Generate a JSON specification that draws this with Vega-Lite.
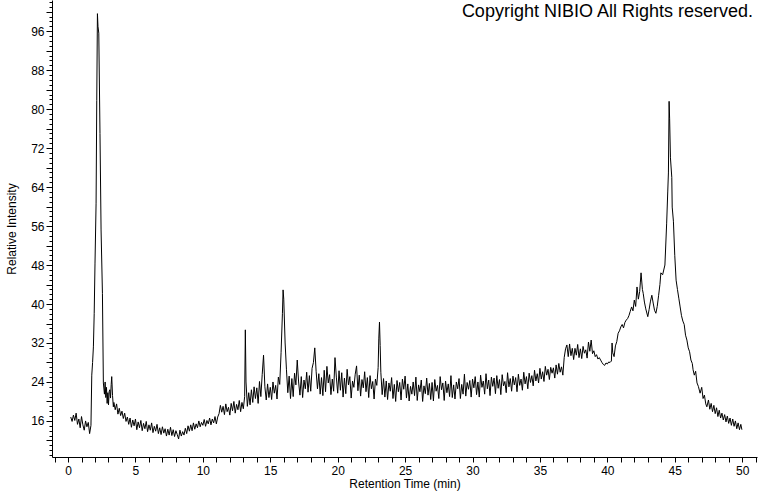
{
  "$schema": "https://vega.github.io/schema/vega-lite/v6.json",
  "width": 705,
  "height": 457,
  "autosize": {"type": "none"},
  "padding": {"left": 52, "top": 0, "right": 3, "bottom": 35},
  "background": "white",
  "config": {"view": {"stroke": null}, "font": "Liberation Sans"},
  "title": {"text": "Copyright NIBIO All Rights reserved.", "anchor": "end", "orient": "top", "offset": -25, "dx": -4, "fontSize": 18, "fontWeight": "normal", "font": "Liberation Sans", "color": "black"},
  "data": {"values": [
{"t":0.2,"i":16.8},{"t":0.3,"i":15.9},{"t":0.4,"i":17.2},{"t":0.5,"i":16.1},{"t":0.6,"i":17.6},{"t":0.7,"i":15.3},{"t":0.8,"i":16.4},{"t":0.9,"i":14.6},{"t":1.0,"i":16.9},{"t":1.1,"i":15.2},{"t":1.2,"i":14.1},{"t":1.3,"i":16.0},{"t":1.4,"i":14.8},{"t":1.5,"i":15.7},{"t":1.6,"i":13.4},{"t":1.7,"i":15.1},
{"t":1.76,"i":25.4},{"t":1.82,"i":28.0},{"t":1.88,"i":31.2},{"t":1.94,"i":38},{"t":2.0,"i":48.4},{"t":2.08,"i":60.7},{"t":2.13,"i":81.8},{"t":2.18,"i":99.6},{"t":2.22,"i":97.0},{"t":2.28,"i":95.6},{"t":2.37,"i":75},{"t":2.45,"i":55.2},{"t":2.55,"i":42.2},{"t":2.62,"i":23.8},{"t":2.7,"i":21.5},{"t":2.75,"i":24.0},{"t":2.8,"i":20.8},{"t":2.85,"i":22.9},{"t":2.9,"i":19.6},{"t":2.95,"i":21.8},{"t":3.0,"i":19.3},{"t":3.05,"i":22.0},{"t":3.1,"i":22.4},{"t":3.15,"i":20.7},{"t":3.2,"i":23.5},{"t":3.24,"i":25.1},{"t":3.3,"i":21.2},{"t":3.36,"i":18.9},{"t":3.4,"i":19.8},{"t":3.5,"i":18.3},{"t":3.6,"i":19.5},{"t":3.7,"i":17.4},{"t":3.8,"i":18.6},{"t":3.9,"i":17.1},{"t":4.0,"i":18.0},{"t":4.1,"i":16.5},{"t":4.2,"i":17.6},{"t":4.3,"i":15.9},{"t":4.4,"i":16.8},{"t":4.5,"i":15.3},{"t":4.6,"i":16.6},{"t":4.7,"i":14.7},{"t":4.8,"i":16.2},{"t":4.9,"i":15.0},
{"t":5.0,"i":16.4},{"t":5.1,"i":14.2},{"t":5.2,"i":15.8},{"t":5.3,"i":14.6},{"t":5.4,"i":16.1},{"t":5.5,"i":14.0},{"t":5.6,"i":15.5},{"t":5.7,"i":14.4},{"t":5.8,"i":15.9},{"t":5.9,"i":13.8},{"t":6.0,"i":15.2},{"t":6.1,"i":14.1},{"t":6.2,"i":15.6},{"t":6.3,"i":13.6},{"t":6.4,"i":14.9},{"t":6.5,"i":13.9},{"t":6.6,"i":15.3},{"t":6.7,"i":13.4},{"t":6.8,"i":14.6},{"t":6.9,"i":13.2},{"t":7.0,"i":14.8},{"t":7.1,"i":13.5},{"t":7.2,"i":14.4},{"t":7.3,"i":12.9},{"t":7.4,"i":14.3},{"t":7.5,"i":13.1},{"t":7.6,"i":14.7},{"t":7.7,"i":13.0},{"t":7.8,"i":14.2},{"t":7.9,"i":12.8},{"t":8.0,"i":14.0},{"t":8.1,"i":13.2},{"t":8.2,"i":12.3},{"t":8.3,"i":14.1},{"t":8.4,"i":12.9},{"t":8.5,"i":13.8},{"t":8.6,"i":13.1},{"t":8.7,"i":14.5},{"t":8.8,"i":13.4},{"t":8.9,"i":15.0},{"t":9.0,"i":13.9},{"t":9.1,"i":15.2},{"t":9.2,"i":14.0},{"t":9.3,"i":15.6},{"t":9.4,"i":14.3},{"t":9.5,"i":15.4},{"t":9.6,"i":14.6},{"t":9.7,"i":16.0},{"t":9.8,"i":14.8},{"t":9.9,"i":15.7},
{"t":10.0,"i":15.1},{"t":10.1,"i":16.3},{"t":10.2,"i":14.9},{"t":10.3,"i":16.1},{"t":10.4,"i":15.4},{"t":10.5,"i":16.6},{"t":10.6,"i":15.2},{"t":10.7,"i":16.4},{"t":10.8,"i":15.6},{"t":10.9,"i":16.9},{"t":11.0,"i":15.4},{"t":11.1,"i":16.8},{"t":11.2,"i":17.5},{"t":11.3,"i":19.2},{"t":11.4,"i":17.8},{"t":11.5,"i":19.0},{"t":11.6,"i":17.3},{"t":11.7,"i":19.5},{"t":11.8,"i":17.9},{"t":11.9,"i":18.8},{"t":12.0,"i":17.2},{"t":12.1,"i":19.6},{"t":12.2,"i":18.1},{"t":12.3,"i":20.0},{"t":12.4,"i":17.6},{"t":12.5,"i":19.4},{"t":12.6,"i":18.3},{"t":12.7,"i":20.2},{"t":12.8,"i":17.9},{"t":12.9,"i":19.8},{"t":13.0,"i":18.5},{"t":13.1,"i":21.0},{"t":13.15,"i":34.7},{"t":13.2,"i":24.0},{"t":13.3,"i":19.0},{"t":13.4,"i":21.8},{"t":13.5,"i":19.3},{"t":13.6,"i":22.4},{"t":13.7,"i":19.8},{"t":13.8,"i":23.0},{"t":13.9,"i":20.6},{"t":14.0,"i":22.8},{"t":14.1,"i":19.6},{"t":14.2,"i":24.1},{"t":14.3,"i":21.0},{"t":14.4,"i":25.5},{"t":14.5,"i":29.5},{"t":14.6,"i":23.0},{"t":14.7,"i":20.3},{"t":14.8,"i":23.6},{"t":14.9,"i":20.8},
{"t":15.0,"i":22.9},{"t":15.1,"i":20.4},{"t":15.2,"i":24.0},{"t":15.3,"i":21.7},{"t":15.4,"i":23.3},{"t":15.5,"i":20.5},{"t":15.6,"i":25.0},{"t":15.7,"i":23.5},{"t":15.8,"i":30.0},{"t":15.9,"i":38.0},{"t":15.95,"i":42.9},{"t":16.0,"i":41.0},{"t":16.1,"i":32.0},{"t":16.2,"i":26.5},{"t":16.3,"i":21.8},{"t":16.4,"i":25.2},{"t":16.5,"i":20.6},{"t":16.6,"i":24.7},{"t":16.7,"i":21.0},{"t":16.8,"i":25.8},{"t":16.9,"i":23.4},{"t":17.0,"i":28.5},{"t":17.1,"i":24.0},{"t":17.2,"i":21.3},{"t":17.3,"i":25.1},{"t":17.4,"i":20.8},{"t":17.5,"i":24.4},{"t":17.6,"i":22.6},{"t":17.7,"i":26.0},{"t":17.8,"i":21.9},{"t":17.9,"i":25.3},{"t":18.0,"i":22.1},{"t":18.1,"i":26.8},{"t":18.2,"i":28.0},{"t":18.3,"i":31.0},{"t":18.4,"i":26.2},{"t":18.5,"i":22.6},{"t":18.6,"i":25.7},{"t":18.7,"i":21.5},{"t":18.8,"i":24.9},{"t":18.9,"i":21.2},{"t":19.0,"i":26.4},{"t":19.1,"i":22.0},{"t":19.2,"i":27.2},{"t":19.3,"i":23.8},{"t":19.4,"i":25.5},{"t":19.5,"i":21.4},{"t":19.6,"i":24.6},{"t":19.7,"i":22.1},{"t":19.8,"i":29.0},{"t":19.9,"i":25.0},
{"t":20.0,"i":21.7},{"t":20.1,"i":26.3},{"t":20.2,"i":22.3},{"t":20.3,"i":25.9},{"t":20.4,"i":20.9},{"t":20.5,"i":24.8},{"t":20.6,"i":21.6},{"t":20.7,"i":26.6},{"t":20.8,"i":23.4},{"t":20.9,"i":25.1},{"t":21.0,"i":20.7},{"t":21.1,"i":24.2},{"t":21.2,"i":22.9},{"t":21.3,"i":25.6},{"t":21.4,"i":27.3},{"t":21.5,"i":22.2},{"t":21.6,"i":25.4},{"t":21.7,"i":21.1},{"t":21.8,"i":24.5},{"t":21.9,"i":22.8},{"t":22.0,"i":26.1},{"t":22.1,"i":22.0},{"t":22.2,"i":24.9},{"t":22.3,"i":20.8},{"t":22.4,"i":25.3},{"t":22.5,"i":22.6},{"t":22.6,"i":24.1},{"t":22.7,"i":20.5},{"t":22.8,"i":24.6},{"t":22.9,"i":23.3},{"t":23.0,"i":27.0},{"t":23.05,"i":33.0},{"t":23.1,"i":36.3},{"t":23.15,"i":31.5},{"t":23.2,"i":26.0},{"t":23.3,"i":21.4},{"t":23.4,"i":24.7},{"t":23.5,"i":20.9},{"t":23.6,"i":24.2},{"t":23.7,"i":20.4},{"t":23.8,"i":23.8},{"t":23.9,"i":22.1},{"t":24.0,"i":24.9},{"t":24.1,"i":20.6},{"t":24.2,"i":23.5},{"t":24.3,"i":20.0},{"t":24.4,"i":24.3},{"t":24.5,"i":22.0},{"t":24.6,"i":23.9},{"t":24.7,"i":20.3},{"t":24.8,"i":24.6},{"t":24.9,"i":22.5},
{"t":25.0,"i":25.2},{"t":25.1,"i":20.7},{"t":25.2,"i":23.6},{"t":25.3,"i":20.1},{"t":25.4,"i":23.1},{"t":25.5,"i":21.5},{"t":25.6,"i":24.0},{"t":25.7,"i":21.2},{"t":25.8,"i":25.0},{"t":25.9,"i":20.2},{"t":26.0,"i":23.4},{"t":26.1,"i":22.0},{"t":26.2,"i":24.4},{"t":26.3,"i":20.0},{"t":26.4,"i":23.2},{"t":26.5,"i":21.6},{"t":26.6,"i":24.8},{"t":26.7,"i":21.3},{"t":26.8,"i":23.7},{"t":26.9,"i":20.4},{"t":27.0,"i":23.9},{"t":27.1,"i":20.1},{"t":27.2,"i":24.5},{"t":27.3,"i":22.1},{"t":27.4,"i":23.3},{"t":27.5,"i":20.6},{"t":27.6,"i":25.1},{"t":27.7,"i":22.4},{"t":27.8,"i":23.8},{"t":27.9,"i":20.2},{"t":28.0,"i":24.2},{"t":28.1,"i":21.8},{"t":28.2,"i":23.6},{"t":28.3,"i":21.0},{"t":28.4,"i":25.3},{"t":28.5,"i":20.8},{"t":28.6,"i":23.4},{"t":28.7,"i":20.5},{"t":28.8,"i":24.0},{"t":28.9,"i":22.6},{"t":29.0,"i":24.7},{"t":29.1,"i":20.6},{"t":29.2,"i":23.5},{"t":29.3,"i":21.5},{"t":29.4,"i":25.6},{"t":29.5,"i":21.1},{"t":29.6,"i":23.9},{"t":29.7,"i":22.5},{"t":29.8,"i":24.3},{"t":29.9,"i":20.9},
{"t":30.0,"i":24.6},{"t":30.1,"i":22.8},{"t":30.2,"i":25.1},{"t":30.3,"i":21.4},{"t":30.4,"i":24.0},{"t":30.5,"i":20.9},{"t":30.6,"i":25.4},{"t":30.7,"i":22.9},{"t":30.8,"i":24.2},{"t":30.9,"i":21.5},{"t":31.0,"i":25.7},{"t":31.1,"i":22.6},{"t":31.2,"i":24.4},{"t":31.3,"i":21.2},{"t":31.4,"i":25.0},{"t":31.5,"i":23.1},{"t":31.6,"i":24.8},{"t":31.7,"i":21.6},{"t":31.8,"i":25.3},{"t":31.9,"i":22.7},{"t":32.0,"i":24.5},{"t":32.1,"i":21.4},{"t":32.2,"i":25.5},{"t":32.3,"i":23.2},{"t":32.4,"i":24.1},{"t":32.5,"i":21.8},{"t":32.6,"i":25.9},{"t":32.7,"i":23.0},{"t":32.8,"i":24.7},{"t":32.9,"i":22.1},{"t":33.0,"i":25.2},{"t":33.1,"i":23.4},{"t":33.2,"i":24.9},{"t":33.3,"i":22.0},{"t":33.4,"i":25.6},{"t":33.5,"i":23.3},{"t":33.6,"i":24.6},{"t":33.7,"i":22.3},{"t":33.8,"i":26.0},{"t":33.9,"i":23.6},{"t":34.0,"i":25.1},{"t":34.1,"i":22.6},{"t":34.2,"i":25.8},{"t":34.3,"i":23.9},{"t":34.4,"i":25.3},{"t":34.5,"i":23.2},{"t":34.6,"i":26.4},{"t":34.7,"i":24.2},{"t":34.8,"i":25.7},{"t":34.9,"i":23.8},
{"t":35.0,"i":26.8},{"t":35.1,"i":24.6},{"t":35.2,"i":26.1},{"t":35.3,"i":24.1},{"t":35.4,"i":27.2},{"t":35.5,"i":25.4},{"t":35.6,"i":26.6},{"t":35.7,"i":24.5},{"t":35.8,"i":27.0},{"t":35.9,"i":25.8},{"t":36.0,"i":26.9},{"t":36.1,"i":24.8},{"t":36.2,"i":27.5},{"t":36.3,"i":25.6},{"t":36.4,"i":27.8},{"t":36.5,"i":26.0},{"t":36.6,"i":27.1},{"t":36.7,"i":25.4},{"t":36.8,"i":29.0},{"t":36.9,"i":30.8},{"t":37.0,"i":31.6},{"t":37.1,"i":29.2},{"t":37.2,"i":31.8},{"t":37.3,"i":29.4},{"t":37.4,"i":30.9},{"t":37.5,"i":28.6},{"t":37.6,"i":30.9},{"t":37.7,"i":29.5},{"t":37.8,"i":31.7},{"t":37.9,"i":29.0},{"t":38.0,"i":30.8},{"t":38.1,"i":28.8},{"t":38.2,"i":31.3},{"t":38.3,"i":29.9},{"t":38.4,"i":30.6},{"t":38.5,"i":28.9},{"t":38.6,"i":32.2},{"t":38.7,"i":30.3},{"t":38.8,"i":32.6},{"t":38.9,"i":29.8},{"t":39.0,"i":30.4},{"t":39.1,"i":29.2},{"t":39.2,"i":29.6},{"t":39.3,"i":28.7},{"t":39.4,"i":29.0},{"t":39.5,"i":28.5},{"t":39.6,"i":28.0},{"t":39.7,"i":27.6},{"t":39.8,"i":27.4},{"t":39.9,"i":27.9},
{"t":40.0,"i":27.7},{"t":40.1,"i":28.1},{"t":40.2,"i":28.0},{"t":40.3,"i":28.3},{"t":40.35,"i":32.0},{"t":40.4,"i":30.0},{"t":40.5,"i":29.2},{"t":40.6,"i":31.4},{"t":40.7,"i":32.3},{"t":40.8,"i":34.0},{"t":40.9,"i":34.5},{"t":41.0,"i":35.3},{"t":41.1,"i":35.8},{"t":41.2,"i":35.1},{"t":41.3,"i":36.2},{"t":41.4,"i":36.7},{"t":41.5,"i":37.0},{"t":41.6,"i":37.6},{"t":41.7,"i":38.5},{"t":41.8,"i":39.4},{"t":41.9,"i":38.6},{"t":42.0,"i":40.8},{"t":42.1,"i":39.5},{"t":42.2,"i":43.5},{"t":42.3,"i":41.0},{"t":42.4,"i":42.6},{"t":42.45,"i":44.5},{"t":42.5,"i":46.4},{"t":42.6,"i":43.0},{"t":42.66,"i":42.2},{"t":42.75,"i":40.4},{"t":42.85,"i":39.0},{"t":43.0,"i":37.4},{"t":43.1,"i":38.9},{"t":43.2,"i":40.6},{"t":43.3,"i":41.8},{"t":43.4,"i":40.2},{"t":43.5,"i":38.7},{"t":43.6,"i":38.1},{"t":43.7,"i":39.5},{"t":43.8,"i":41.7},{"t":43.9,"i":44.0},{"t":43.97,"i":46.4},{"t":44.1,"i":46.0},{"t":44.27,"i":48.0},{"t":44.4,"i":56.6},{"t":44.48,"i":63.0},{"t":44.53,"i":66.9},{"t":44.58,"i":81.6},{"t":44.62,"i":78.0},{"t":44.68,"i":70.0},{"t":44.78,"i":66.0},{"t":44.81,"i":59.9},{"t":44.9,"i":57.0},
{"t":45.0,"i":50.0},{"t":45.1,"i":44.9},{"t":45.2,"i":43.0},{"t":45.3,"i":41.2},{"t":45.4,"i":39.4},{"t":45.5,"i":37.6},{"t":45.6,"i":36.5},{"t":45.7,"i":35.8},{"t":45.8,"i":33.6},{"t":45.9,"i":32.6},{"t":46.0,"i":31.0},{"t":46.1,"i":30.2},{"t":46.2,"i":28.5},{"t":46.3,"i":27.8},{"t":46.36,"i":26.5},{"t":46.45,"i":25.4},{"t":46.55,"i":26.2},{"t":46.65,"i":23.8},{"t":46.75,"i":23.1},{"t":46.88,"i":21.7},{"t":47.0,"i":22.9},{"t":47.1,"i":20.6},{"t":47.2,"i":21.3},{"t":47.3,"i":19.5},{"t":47.38,"i":18.9},{"t":47.5,"i":20.3},{"t":47.6,"i":18.4},{"t":47.7,"i":19.6},{"t":47.8,"i":17.9},{"t":47.9,"i":19.2},{"t":48.0,"i":17.5},{"t":48.1,"i":18.7},{"t":48.2,"i":16.9},{"t":48.3,"i":18.2},{"t":48.4,"i":16.6},{"t":48.5,"i":17.6},{"t":48.6,"i":16.2},{"t":48.7,"i":17.3},{"t":48.8,"i":15.8},{"t":48.9,"i":17.0},{"t":49.0,"i":15.5},{"t":49.1,"i":16.6},{"t":49.2,"i":15.1},{"t":49.3,"i":16.4},{"t":49.4,"i":14.9},{"t":49.5,"i":16.0},{"t":49.6,"i":14.4},{"t":49.7,"i":15.6},{"t":49.8,"i":14.2},{"t":49.9,"i":15.3},{"t":49.98,"i":14.2}
  ]},
  "mark": {"type": "line", "color": "black", "strokeWidth": 1, "clip": true},
  "encoding": {
    "x": {"field": "t", "type": "quantitative",
      "scale": {"domain": [-1.19, 51.1], "nice": false, "zero": false},
      "axis": {"title": "Retention Time (min)", "values": [-1,0,1,2,3,4,5,6,7,8,9,10,11,12,13,14,15,16,17,18,19,20,21,22,23,24,25,26,27,28,29,30,31,32,33,34,35,36,37,38,39,40,41,42,43,44,45,46,47,48,49,50,51],
        "labelExpr": "datum.value % 5 === 0 ? format(datum.value, 'd') : ''",
        "grid": false, "domainColor": "black", "tickColor": "black", "tickSize": 5, "labelColor": "black", "labelFontSize": 12, "labelPadding": 3, "labelFont": "Liberation Sans", "titleFont": "Liberation Sans", "titleFontSize": 12, "titleFontWeight": "normal", "titleColor": "black", "titlePadding": 2, "labelFlush": false, "labelOverlap": false}
    },
    "y": {"field": "i", "type": "quantitative",
      "scale": {"domain": [8.6, 102.4], "nice": false, "zero": false},
      "axis": {"title": "Relative Intensity", "values": [9,10,11,12,13,14,15,16,17,18,19,20,21,22,23,24,25,26,27,28,29,30,31,32,33,34,35,36,37,38,39,40,41,42,43,44,45,46,47,48,49,50,51,52,53,54,55,56,57,58,59,60,61,62,63,64,65,66,67,68,69,70,71,72,73,74,75,76,77,78,79,80,81,82,83,84,85,86,87,88,89,90,91,92,93,94,95,96,97,98,99,100,101,102],
        "labelExpr": "datum.value % 8 === 0 ? format(datum.value, 'd') : ''",
        "tickSize": {"condition": {"test": "datum.value % 4 === 0", "value": 6}, "value": 3},
        "grid": false, "domainColor": "black", "tickColor": "black", "labelColor": "black", "labelFontSize": 12, "labelPadding": 2, "labelFont": "Liberation Sans", "titleFont": "Liberation Sans", "titleFontSize": 12, "titleFontWeight": "normal", "titleColor": "black", "titlePadding": 12, "labelFlush": false, "labelOverlap": false}
    }
  }
}
